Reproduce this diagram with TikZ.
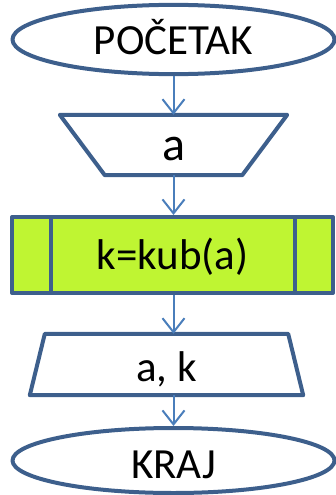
\documentclass[tikz,border=0pt]{standalone}
\usepackage{fontspec}
\setmainfont{Carlito}
\usetikzlibrary{shapes.geometric,arrows.meta,calc}
\definecolor{bord}{HTML}{3D5F8C}
\definecolor{arr}{HTML}{4A7EBB}
\definecolor{lime}{HTML}{BFF532}
\tikzset{
  txt/.style={inner sep=0pt,font=\fontsize{43}{48}\selectfont,text height=40pt},
  shp/.style={txt,draw=bord,line width=4pt,line join=round},
  term/.style={shp,ellipse,minimum width=322pt,minimum height=65pt},
  box/.style={txt,rectangle},
  edge/.style={draw=bord,line width=4pt,line join=round},
  conn/.style={draw=arr,line width=2pt,-{Straight Barb[length=14pt,width=22pt,line width=2pt]}}
}
\begin{document}
\begin{tikzpicture}[x=1pt,y=-1pt]
\useasboundingbox (0,0) rectangle (336,495);
\node[term,text depth=9pt] (start) at (173.5,39.5) {POČETAK};
% input trapezium (wide top)
\node[box,minimum width=227pt,minimum height=60pt,text depth=10pt,
  font=\fontsize{48}{52}\selectfont] (in) at (173.5,145) {a};
\draw[edge] (in.north west) -- (in.north east) -- ($(in.south east)+(-45,0)$)
  -- ($(in.south west)+(45,0)$) -- cycle;
% process box
\node[shp,rectangle,fill=lime,minimum width=321pt,minimum height=76pt,text depth=12pt] (proc) at (172.5,255) {k=kub(a)};
\draw[edge] ($(proc.north west)+(41,0)$) -- ($(proc.south west)+(41,0)$);
\draw[edge] ($(proc.north east)+(-40,0)$) -- ($(proc.south east)+(-40,0)$);
% output trapezium (wide bottom)
\node[box,minimum width=273pt,minimum height=61pt,text depth=7pt] (out) at (166.5,364.5) {a, k};
\draw[edge] ($(out.north west)+(15,0)$) -- ($(out.north east)+(-15,0)$)
  -- (out.south east) -- (out.south west) -- cycle;
\node[term,text depth=4pt] (end) at (173.5,460.5) {KRAJ};
\draw[conn] (start.south) -- (in.north);
\draw[conn] (in.south) -- (in.south |- proc.north);
\draw[conn] (proc.south -| start.south) -- (start.south |- out.north);
\draw[conn] (start.south |- out.south) -- (end.north);
\end{tikzpicture}
\end{document}
